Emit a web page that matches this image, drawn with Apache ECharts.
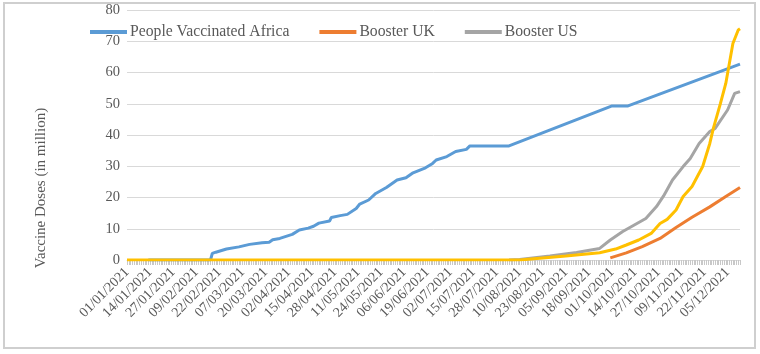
<!DOCTYPE html>
<html>
<head>
    <meta charset="utf-8">
    <title>Vaccine doses</title>
    <script src="https://cdn.jsdelivr.net/npm/echarts@6/dist/echarts.min.js"></script>
    <style>
        html, body { margin: 0; padding: 0; background: #fff; }
    </style>
</head>
<body>
<div id="main" style="width: 760px;height:354px;"></div>
<script type="text/javascript">
    // daily categories, 01/01/2021 .. 12/12/2021
    var startDate = Date.UTC(2021, 0, 1);
    var dayCount = 346;
    var dates = [];
    for (var i = 0; i < dayCount; i++) {
        var d = new Date(startDate + i * 86400000);
        var dd = ('0' + d.getUTCDate()).slice(-2);
        var mm = ('0' + (d.getUTCMonth() + 1)).slice(-2);
        dates.push(dd + '/' + mm + '/' + d.getUTCFullYear());
    }

    var yTicks = [0, 10, 20, 30, 40, 50, 60, 70, 80];

    // [day index, millions]
    var africa = [
        [12, 0], [47, 0], [48, 2.1], [50, 2.5], [56, 3.5], [63, 4.2], [69, 5.0], [76, 5.5],
        [80, 5.7], [82, 6.5], [86, 6.9], [93, 8.2], [97, 9.6], [102, 10.2], [105, 10.8],
        [108, 11.8], [114, 12.5], [115, 13.6], [120, 14.2], [124, 14.6], [129, 16.5],
        [131, 17.9], [136, 19.2], [140, 21.3], [146, 23.2], [152, 25.6], [157, 26.3],
        [161, 27.9], [168, 29.5], [172, 30.9], [174, 32.0], [180, 33.1], [185, 34.7],
        [191, 35.4], [193, 36.5], [215, 36.5], [273, 49.3], [282, 49.3], [345, 62.7]
    ];
    var boosterUK = [
        [272, 0.7], [281, 2.3], [290, 4.3], [300, 6.9], [309, 10.4], [318, 13.7],
        [328, 17.0], [337, 20.3], [345, 23.2]
    ];
    var boosterUS = [
        [215, 0], [221, 0.2], [238, 1.3], [253, 2.4], [266, 3.7], [272, 6.4], [279, 9.1],
        [287, 11.7], [292, 13.3], [298, 17.1], [302, 20.5], [307, 25.6], [313, 29.9],
        [317, 32.5], [322, 37.3], [328, 41.1], [331, 42.1], [338, 48.0], [342, 53.3], [345, 53.9]
    ];
    var series4 = [
        [0, 0], [221, 0], [247, 1.3], [266, 2.3], [275, 3.5], [281, 4.8], [288, 6.4],
        [295, 8.5], [300, 11.7], [304, 13.0], [309, 16.0], [313, 20.3], [318, 23.5],
        [324, 29.9], [328, 37.3], [330, 42.1], [334, 50.1], [337, 56.5], [341, 69.3],
        [344, 73.6], [345, 74.0]
    ];

    var font = 'Liberation Serif';
    var myChart = echarts.init(document.getElementById('main'));
    var option = {
        animation: false,
        backgroundColor: '#fff',
        grid: {
            left: 127,
            right: 20,
            top: 10,
            bottom: 94
        },
        legend: {
            left: 90,
            top: 24,
            padding: 0,
            icon: 'rect',
            itemWidth: 37,
            itemHeight: 4,
            itemGap: 30,
            data: ['People Vaccinated Africa', 'Booster UK', 'Booster US'],
            textStyle: { fontFamily: font, fontSize: 15.7, color: '#595959', lineHeight: 16, padding: [0, 0, 0, -2] }
        },
        xAxis: {
            type: 'category',
            boundaryGap: false,
            data: dates,
            axisLine: { lineStyle: { color: '#d9d9d9' } },
            axisTick: {
                interval: 0,
                length: 5,
                lineStyle: { color: '#c8c8c8' }
            },
            axisLabel: {
                interval: 12,
                rotate: 45,
                margin: 10,
                fontFamily: font,
                fontSize: 14,
                color: '#595959'
            },
            splitLine: { show: false }
        },
        yAxis: {
            type: 'value',
            min: yTicks[0],
            max: yTicks[yTicks.length - 1],
            interval: 10,
            axisLine: { show: false },
            axisTick: { show: false },
            axisLabel: { fontFamily: font, fontSize: 14.5, color: '#595959', margin: 7 },
            splitLine: { lineStyle: { color: '#d9d9d9', width: 1 } }
        },
        graphic: [
            {
                type: 'rect',
                shape: { x: 4, y: 3, width: 751, height: 345 },
                style: { fill: 'none', stroke: '#cfcfcf', lineWidth: 2 }
            },
            {
                type: 'text',
                x: 41,
                y: 188,
                rotation: Math.PI / 2,
                style: {
                    text: 'Vaccine Doses (in million)',
                    font: '15px "Liberation Serif"',
                    fill: '#595959',
                    align: 'center',
                    verticalAlign: 'middle'
                }
            }
        ],
        series: [
            {
                name: 'People Vaccinated Africa',
                type: 'line',
                symbol: 'none',
                lineStyle: { width: 3, color: '#5B9BD5' },
                itemStyle: { color: '#5B9BD5' },
                data: africa
            },
            {
                name: 'Booster UK',
                type: 'line',
                symbol: 'none',
                lineStyle: { width: 3, color: '#ED7D31' },
                itemStyle: { color: '#ED7D31' },
                data: boosterUK
            },
            {
                name: 'Booster US',
                type: 'line',
                symbol: 'none',
                lineStyle: { width: 3, color: '#A5A5A5' },
                itemStyle: { color: '#A5A5A5' },
                data: boosterUS
            },
            {
                name: 'Series4',
                type: 'line',
                symbol: 'none',
                lineStyle: { width: 3, color: '#FFC000' },
                itemStyle: { color: '#FFC000' },
                data: series4
            }
        ]
    };
    myChart.setOption(option);
</script>
</body>
</html>
